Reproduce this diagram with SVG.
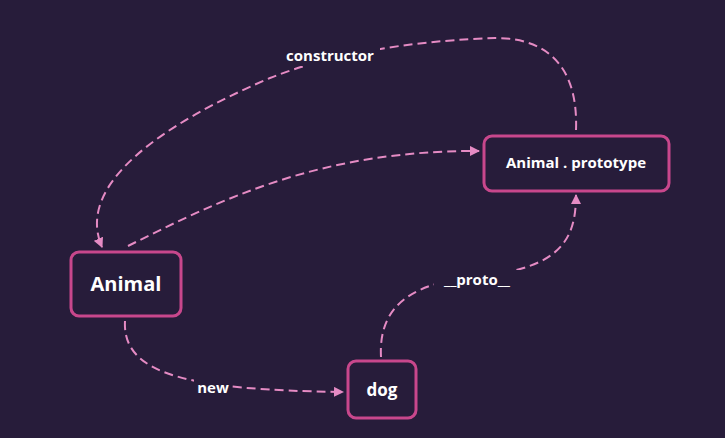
<svg xmlns="http://www.w3.org/2000/svg" width="725" height="438" viewBox="0 0 725 438">
<style>
.node rect{fill:#271c3a;stroke:#c8478c;stroke-width:3}
.node text{fill:#ffffff;font-family:"Open Sans","Noto Sans",sans-serif;font-weight:bold;text-anchor:middle;dominant-baseline:central}
.edge{fill:none;stroke:#e58bc4;stroke-width:2;stroke-dasharray:9,5}
.lbl{fill:#ffffff;font-family:"Open Sans","Noto Sans",sans-serif;font-weight:bold;font-size:15px;text-anchor:middle;dominant-baseline:central}
.lblbg{fill:#271c3a}
</style>
<defs>
<marker id="arr" viewBox="0 0 10 10" refX="9" refY="5" markerWidth="10" markerHeight="10" markerUnits="userSpaceOnUse" orient="auto">
<path d="M0,0 L10,5 L0,10 z" fill="#e58bc4"/>
</marker>
</defs>
<rect width="725" height="438" fill="#271c3a"/>
<g id="connectors">
<path class="edge" marker-end="url(#arr)" d="M576,130 C578,75 555,38 495,38 C430,40 340,50 270,78 C160,125 75,185 102,247"/>
<path class="edge" marker-end="url(#arr)" d="M128,246 C220,200 320,150 479,151"/>
<path class="edge" marker-end="url(#arr)" d="M125,321 C122,375 190,390 343,392"/>
<path class="edge" marker-end="url(#arr)" d="M381,357 C378,300 420,282 480,276 C560,268 576,240 576,195"/>
<rect class="lblbg" x="280" y="46" width="100" height="20"/>
<text class="lbl" x="330" y="55">constructor</text>
<rect class="lblbg" x="194" y="378" width="38" height="20"/>
<text class="lbl" x="213" y="387">new</text>
<rect class="lblbg" x="434" y="270" width="86" height="20"/>
<text class="lbl" x="477" y="279">__proto__</text>
</g>
<g id="node-animal" class="node">
<rect x="71" y="252" width="110" height="64" rx="8"/>
<text x="126" y="283" font-size="20">Animal</text>
</g>
<g id="node-prototype" class="node">
<rect x="484" y="136" width="185" height="55" rx="8"/>
<text x="576" y="162" font-size="15">Animal . prototype</text>
</g>
<g id="node-dog" class="node">
<rect x="348" y="361" width="68" height="57" rx="8"/>
<text x="382" y="389" font-size="17">dog</text>
</g>
</svg>
